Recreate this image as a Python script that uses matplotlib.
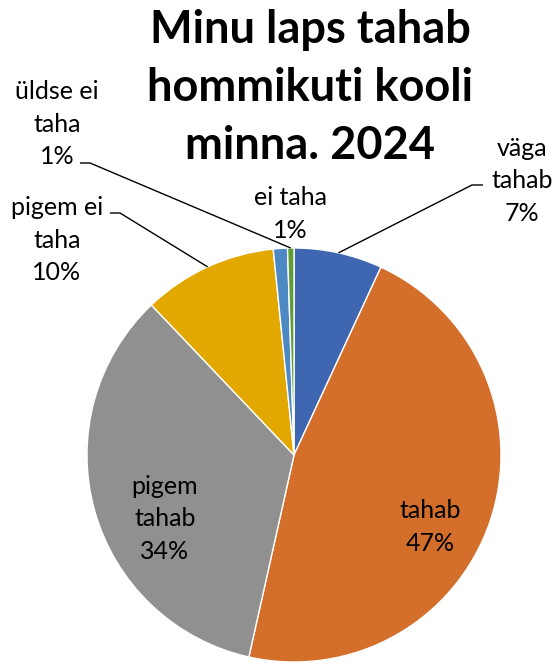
import matplotlib
matplotlib.use("Agg")
import matplotlib.pyplot as plt
import numpy as np

plt.rcParams['font.family'] = ['Lato', 'DejaVu Sans']

title = "Minu laps tahab\nhommikuti kooli\nminna. 2024"
categories = ["väga tahab", "tahab", "pigem tahab", "pigem ei taha", "ei taha", "üldse ei taha"]
values = [6.9, 46.6, 34.4, 10.5, 1.1, 0.5]
pct_labels = ["7%", "47%", "34%", "10%", "1%", "1%"]
colors = ["#3F67B1", "#D46E2B", "#909090", "#E2A800", "#4C88C2", "#5F9B3B"]

W, H = 554, 662
fig = plt.figure(figsize=(W / 100, H / 100), dpi=100)
ax = fig.add_axes([0, 0, 1, 1])
ax.set_xlim(0, W)
ax.set_ylim(0, H)
ax.set_aspect('equal')
ax.axis('off')

cx, cy, R = 294, H - 455, 207
wedges, _ = ax.pie(values, colors=colors, startangle=90, counterclock=False,
                   center=(cx, cy), radius=R, frame=True,
                   wedgeprops=dict(edgecolor='white', linewidth=1))
ax.set_xlim(0, W)
ax.set_ylim(0, H)
ax.axis('off')

fs = 18
# label layout: (x, y_px, leader start (x, y_px) or None, text side)
layout = {
    0: (522, 181, (472, 185), (483, 185)),
    1: (430, 527, None, None),
    2: (165, 519, None, None),
    3: (57, 240, (120, 213), (110, 213)),
    4: (290, 214, None, None),
    5: (57, 124, (90, 163), (80, 163)),
}
wrapped = {0: "väga\ntahab", 1: "tahab", 2: "pigem\ntahab", 3: "pigem ei\ntaha",
           4: "ei taha", 5: "üldse ei\ntaha"}

for i, w in enumerate(wedges):
    x, ypx, start, side = layout[i]
    ax.text(x, H - ypx, f"{wrapped[i]}\n{pct_labels[i]}", ha='center', va='center',
            fontsize=fs, color='black', linespacing=1.5)
    if start is not None:
        mid = np.deg2rad((w.theta1 + w.theta2) / 2)
        px, py = cx + R * np.cos(mid), cy + R * np.sin(mid)
        ax.plot([side[0], start[0], px], [H - side[1], H - start[1], py],
                color='black', lw=1, solid_capstyle='butt')

ax.text(310, H - 88, title, ha='center', va='center', fontsize=32.5,
        fontweight='bold', color='black', linespacing=1.48)

fig.savefig("out.png", dpi=100, facecolor='white')
